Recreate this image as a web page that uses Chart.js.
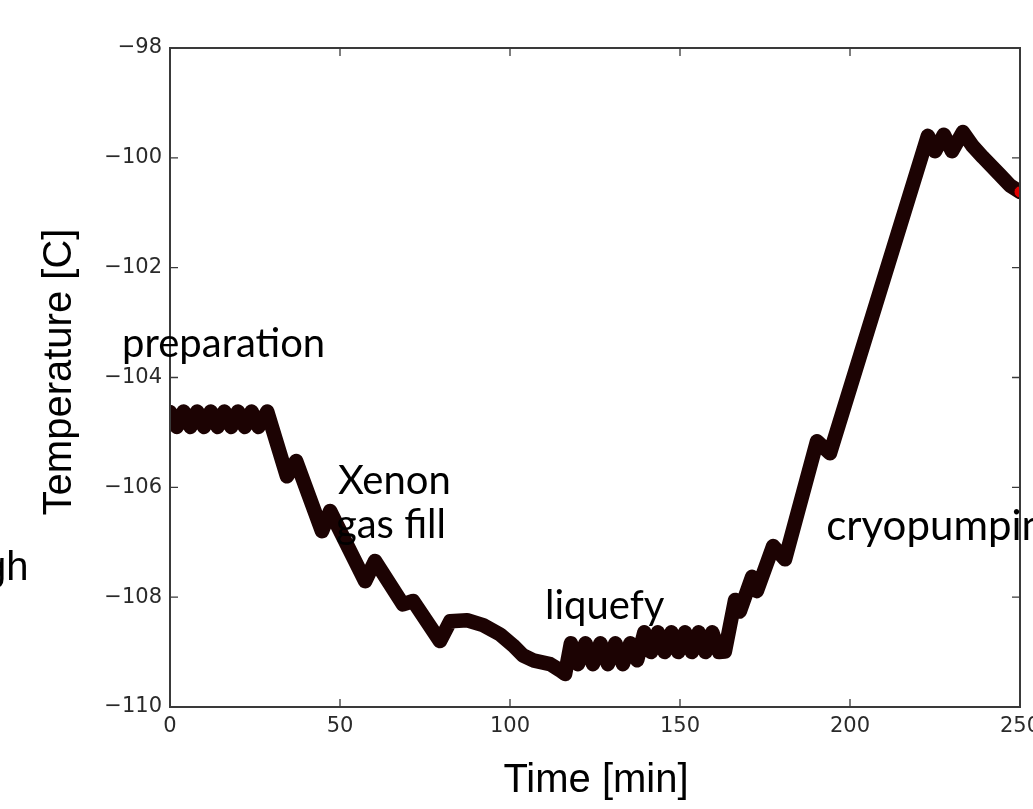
<!DOCTYPE html>
<html>
<head>
<meta charset="utf-8">
<script src="https://cdn.jsdelivr.net/npm/chart.js@4"></script>
<style>
  html, body { margin: 0; padding: 0; background: #fff; }
  #wrap { width: 1033px; height: 809px; position: relative; }
</style>
</head>
<body>
<div id="wrap"><canvas id="tempChart" width="1033" height="809"></canvas></div>
<script>
// time in minutes
const times = [
    0, 2, 4, 6, 8, 10, 12, 14, 16, 18, 20, 22, 24, 26, 28.6,
    34.4, 37.1, 44.7, 47.1, 57.4, 60.3, 68.5, 71.5, 79.4, 82.4,
    87.4, 92.1, 97.1, 100.9, 103.8, 106.8, 111.8, 114.7, 116.2,
    117.9, 120, 122.2, 124.4, 126.6, 128.8, 131, 133.2, 135.4, 137.4,
    139.5, 141.5, 143.5, 145.5, 147.5, 149.5, 151.5, 153.5, 155.5, 157.5, 159.5, 161.5, 163.2,
    166.2, 167.6, 171.2, 172.6, 177.4, 180.9, 190.3, 194.1,
    222.9, 225, 227.6, 230, 233.2, 236, 239.1, 244.1, 247, 250
];
// temperature in C
const temps = [
    -104.63, -104.9, -104.62, -104.9, -104.62, -104.9, -104.62, -104.9, -104.62, -104.9, -104.62, -104.9, -104.62, -104.9, -104.62,
    -105.8, -105.52, -106.8, -106.43, -107.71, -107.34, -108.13, -108.07, -108.8, -108.44,
    -108.42, -108.51, -108.68, -108.88, -109.06, -109.15, -109.22, -109.33, -109.4,
    -108.84, -109.22, -108.84, -109.22, -108.84, -109.22, -108.84, -109.22, -108.84, -109.15,
    -108.64, -109.0, -108.64, -109.0, -108.64, -109.0, -108.64, -109.0, -108.64, -109.0, -108.64, -109.0, -108.99,
    -108.05, -108.26, -107.63, -107.89, -107.07, -107.31, -105.16, -105.38,
    -99.6, -99.88, -99.58, -99.88, -99.53, -99.78, -99.99, -100.31, -100.5, -100.62
];

const xTicks = [0, 50, 100, 150, 200, 250];
const yTicks = [-98, -100, -102, -104, -106, -108, -110];

// phase labels: text, time, temperature (baseline anchor)
const phaseText = ['preparation', 'Xenon', 'gas fill', 'liquefy', 'cryopumping'];
const phaseTime = [-14.1, 49.4, 48.8, 110.3, 193.0];
const phaseTemp = [-103.63, -106.12, -106.92, -108.39, -106.96];

const points = times.map((t, i) => ({ x: t, y: temps[i] }));
const fmt = v => v < 0 ? '\u2212' + Math.abs(v) : String(v);

const framePlugin = {
    id: 'frame',
    afterDraw(chart) {
        const ctx = chart.ctx;
        const a = chart.chartArea;
        const xs = chart.scales.x, ys = chart.scales.y;
        ctx.save();
        ctx.strokeStyle = '#3a3a3a';
        ctx.lineWidth = 2;
        ctx.strokeRect(a.left, a.top, a.right - a.left, a.bottom - a.top);

        // inward ticks like matplotlib
        ctx.lineWidth = 1.3;
        xTicks.forEach(v => {
            const px = xs.getPixelForValue(v);
            ctx.beginPath();
            ctx.moveTo(px, a.bottom); ctx.lineTo(px, a.bottom - 8);
            ctx.moveTo(px, a.top); ctx.lineTo(px, a.top + 8);
            ctx.stroke();
        });
        yTicks.forEach(v => {
            const py = ys.getPixelForValue(v);
            ctx.beginPath();
            ctx.moveTo(a.left, py); ctx.lineTo(a.left + 8, py);
            ctx.moveTo(a.right, py); ctx.lineTo(a.right - 8, py);
            ctx.stroke();
        });

        // phase annotations
        ctx.fillStyle = '#000';
        ctx.textAlign = 'left';
        ctx.textBaseline = 'alphabetic';
        phaseText.forEach((s, i) => {
            ctx.font = (i === 4 ? '42px' : '40px') + ' Lato';
            ctx.fillText(s, xs.getPixelForValue(phaseTime[i]), ys.getPixelForValue(phaseTemp[i]));
        });

        // axis titles
        ctx.font = '40px "Liberation Sans"';
        ctx.textAlign = 'center';
        ctx.fillText('Time [min]', 596, 792);
        ctx.save();
        ctx.translate(71, 372);
        ctx.rotate(-Math.PI / 2);
        ctx.fillText('Temperature [C]', 0, 0);
        ctx.restore();

        // leftovers of neighbouring slide text
        ctx.textAlign = 'left';
        ctx.fillText('gh', -16, 580);
        ctx.fillText('d', -20, 14);
        ctx.restore();
    }
};

new Chart(document.getElementById('tempChart'), {
    type: 'line',
    data: {
        datasets: [{
            data: points,
            borderColor: '#1c0303',
            borderWidth: 14.5,
            borderJoinStyle: 'round',
            borderCapStyle: 'round',
            tension: 0,
            clip: 0,
            pointRadius: c => c.dataIndex === points.length - 1 ? 6 : 0,
            pointBackgroundColor: '#e00000',
            pointBorderColor: '#300000',
            pointBorderWidth: 1
        }]
    },
    options: {
        responsive: false,
        animation: false,
        events: [],
        layout: { padding: { top: 48, right: 13, left: 0, bottom: 0 } },
        plugins: { legend: { display: false }, tooltip: { enabled: false } },
        scales: {
            x: {
                type: 'linear',
                min: 0, max: 250,
                afterFit: s => { s.height = 102; s.paddingLeft = 0; s.paddingRight = 0; },
                afterBuildTicks: s => { s.ticks = xTicks.map(v => ({ value: v })); },
                grid: { display: false, drawTicks: false },
                border: { display: false },
                ticks: { padding: 7, color: '#2a2a2a', font: { family: 'DejaVu Sans', size: 21 }, callback: fmt, maxRotation: 0 }
            },
            y: {
                type: 'linear',
                min: -110, max: -98,
                afterFit: s => { s.width = 170; s.paddingTop = 0; s.paddingBottom = 0; },
                afterBuildTicks: s => { s.ticks = yTicks.map(v => ({ value: v })); },
                grid: { display: false, drawTicks: false },
                border: { display: false },
                ticks: { padding: 8, color: '#2a2a2a', font: { family: 'DejaVu Sans', size: 21 }, callback: fmt }
            }
        }
    },
    plugins: [framePlugin]
});
</script>
</body>
</html>
